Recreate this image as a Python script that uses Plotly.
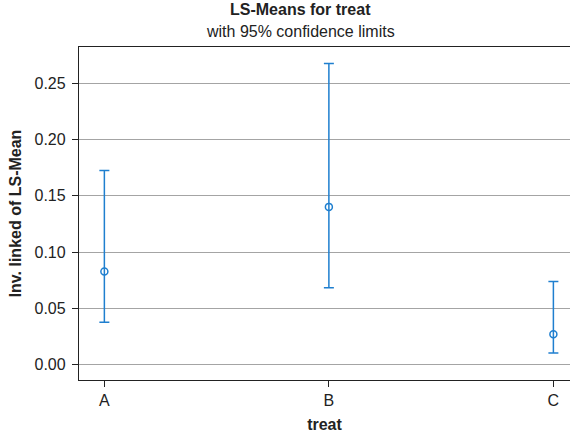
import plotly.graph_objects as go

categories = ["A", "B", "C"]
means = [0.0827, 0.1402, 0.0267]
upper = [0.1726, 0.2678, 0.0738]
lower = [0.0374, 0.0682, 0.0100]

err_plus = [u - m for u, m in zip(upper, means)]
err_minus = [m - l for m, l in zip(means, lower)]

blue = "#1f7fcf"
font_family = "Liberation Sans, Arial, sans-serif"
fs = 16

fig = go.Figure()
fig.add_trace(go.Scatter(
    x=[0, 1, 2], y=means, mode="markers",
    marker=dict(symbol="circle-open", size=7, color=blue, line=dict(width=1.5, color=blue)),
    error_y=dict(type="data", symmetric=False, array=err_plus, arrayminus=err_minus,
                 color=blue, thickness=1.5, width=5),
    showlegend=False,
))

fig.update_layout(
    width=570, height=433,
    margin=dict(l=79, r=0, t=47, b=53),
    paper_bgcolor="white", plot_bgcolor="white",
    font=dict(family=font_family, size=fs, color="#222"),
    xaxis=dict(
        range=[-0.113, 2.074], tickvals=[0, 1, 2], ticktext=categories,
        showgrid=False, zeroline=False,
        showline=True, linecolor="#222", linewidth=1.3, mirror=True,
        ticks="outside", ticklen=6, tickcolor="#222",
        tickfont=dict(size=fs, color="#222"),
        title=dict(text="<b>treat</b>", font=dict(size=fs, color="#222"), standoff=10),
    ),
    yaxis=dict(
        range=[-0.014, 0.2826], tickvals=[0, 0.05, 0.10, 0.15, 0.20, 0.25],
        tickformat=".2f",
        showgrid=True, gridcolor="#a4a4a4", gridwidth=1.2, zeroline=False,
        showline=True, linecolor="#222", linewidth=1.3,
        ticks="outside", ticklen=6, tickcolor="#222",
        ticklabelstandoff=3,
        tickfont=dict(size=fs, color="#222"),
        title=dict(text="<b>Inv. linked of LS-Mean</b>", font=dict(size=fs, color="#222"), standoff=8),
    ),
    annotations=[
        dict(text="<b>LS-Means for treat</b>", x=0.452, y=1, xref="paper", yref="paper",
             yanchor="bottom", yshift=27, showarrow=False, font=dict(size=fs, color="#222")),
        dict(text="with 95% confidence limits", x=0.452, y=1, xref="paper", yref="paper",
             yanchor="bottom", yshift=5, showarrow=False, font=dict(size=fs, color="#222")),
    ],
)

fig.write_html("out.html")
